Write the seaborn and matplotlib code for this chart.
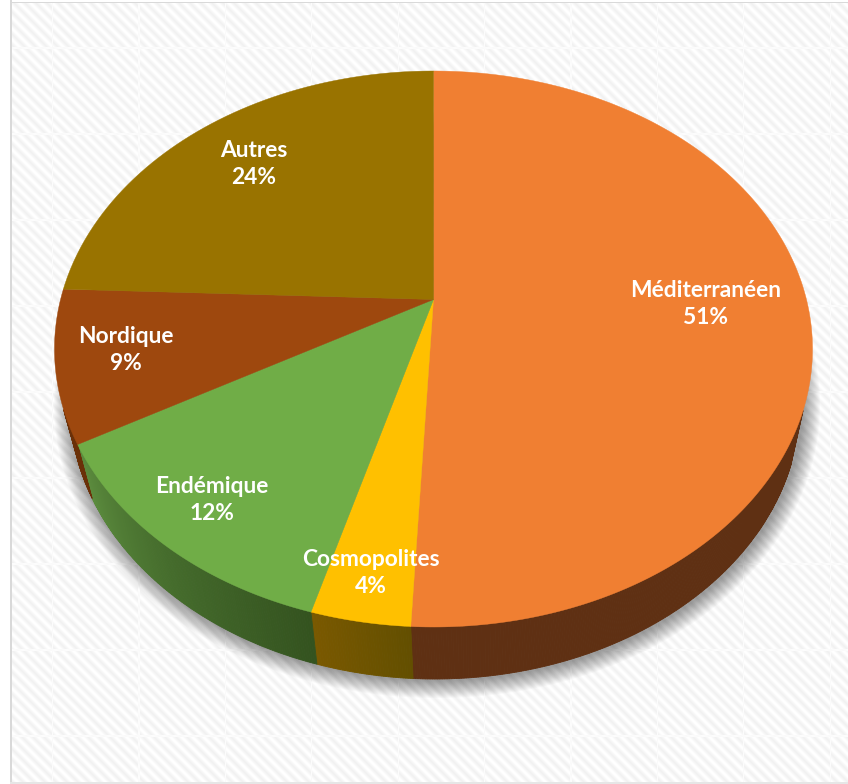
import numpy as np
import matplotlib
matplotlib.use("Agg")
import matplotlib.pyplot as plt
import seaborn as sns

# --- data ---
names = ["Méditerranéen", "Cosmopolites", "Endémique", "Nordique", "Autres"]
values = [50.8, 3.6, 12.45, 8.8, 24.35]
slice_colors = ["#F07F32", "#FFC000", "#70AD47", "#9E480E", "#997300"]
label_x = [706, 371, 212, 126, 254]
label_y = [304, 573, 500, 350, 164]

# side wall colours, from the clockwise start of each slice to its end
side_colors = [
    ["#5F3013", "#5F3013"],
    ["#634F00", "#7A5900"],
    ["#34531F", "#456C2C", "#5C8C3E"],
    ["#6A3008", "#6A3008"],
    ["#5C4500", "#5C4500"],
]

sns.set_theme(style="white")
plt.rcParams["font.family"] = ["Lato", "DejaVu Sans"]

W, H = 848, 784
fig = plt.figure(figsize=(W / 100, H / 100), dpi=100)
ax = fig.add_axes([0, 0, 1, 1])
ax.set_xlim(0, W)
ax.set_ylim(H, 0)
ax.axis("off")

# --- background: soft diagonal stripes with faint tile seams ---
xx, yy = np.meshgrid(np.arange(W) + 0.5, np.arange(H) + 0.5)
stripes = 0.5 + 0.5 * np.cos(2 * np.pi * (xx - yy) / 11.0)
bg = 1.0 - 0.055 * stripes
seam_x = np.abs(((xx - 52.5 + 43) % 86.4) - 43) < 0.6
seam_y = np.abs(((yy - 48 + 43) % 86) - 43) < 0.6
bg[seam_x | seam_y] = 0.98 + 0.005 * stripes[seam_x | seam_y]
bg[:, :10] = 1.0
bg[:2, :] = 1.0
bg[:, 10:12] = 0.85
bg[2:3, 10:] = 0.85
bg[782:, 10:] = 0.9
ax.imshow(bg, cmap="gray", vmin=0, vmax=1, extent=(0, W, H, 0), aspect="auto", zorder=0)


# --- perspective pie: circle -> ellipse, centre pushed towards the back ---
def project(t, cx, cy, a, b, s=0.176):
    u, v = np.sin(t), np.cos(t)
    d = 1 + s * v
    return cx + a * u * np.sqrt(1 - s * s) / d, cy - b * (v + s) / d


top = (433.5, 349, 379, 278)
low = (435, 404, 365, 275)

# soft shadow under the pie
ring = np.linspace(0, 2 * np.pi, 400)
for grow in np.arange(18, 0, -1.0):
    sx, sy = project(ring, low[0] + 2, low[1] + 1, low[2] + grow, low[3] + grow)
    ax.fill(sx, sy, color="black", alpha=0.025, lw=0, zorder=1)

edges = np.cumsum([0] + values) / sum(values) * 2 * np.pi

# side walls, only the front part of the pie shows them
for i in range(len(values)):
    steps = max(int((edges[i + 1] - edges[i]) * 180), 2)
    ts = np.linspace(edges[i], edges[i + 1], steps + 1)
    cols = sns.blend_palette(side_colors[i], steps)
    for j in range(steps):
        tt = ts[j:j + 2]
        if np.cos(tt[0]) > -0.38:
            continue
        x1, y1 = project(tt, *top)
        x2, y2 = project(tt[::-1], *low)
        ax.fill(np.r_[x1, x2], np.r_[y1, y2], color=cols[j], lw=0.6, zorder=2 + i * 0.01)

# top face
center_x, center_y = 433.5, 299.5
for i, col in enumerate(sns.color_palette(slice_colors)):
    ts = np.linspace(edges[i], edges[i + 1], 300)
    x, y = project(ts, *top)
    ax.fill(np.r_[center_x, x], np.r_[center_y, y], color=col, lw=0.3, zorder=3)

# labels
for name, val, lx, ly in zip(names, values, label_x, label_y):
    ax.text(lx, ly, f"{name}\n{val:.0f}%", color="white", fontsize=16.4, fontweight="bold",
            ha="center", va="center", linespacing=1.38, zorder=4)

fig.savefig("out.png", dpi=100)
